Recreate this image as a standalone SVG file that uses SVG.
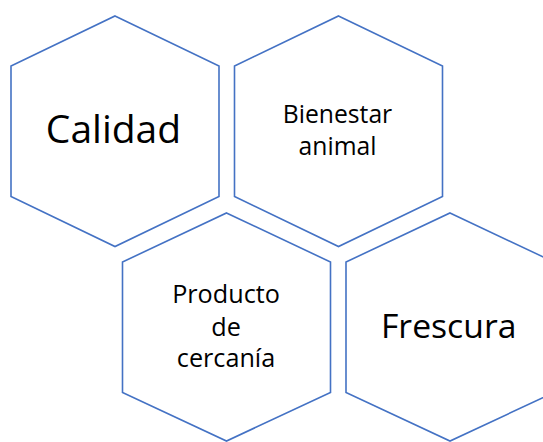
<svg xmlns="http://www.w3.org/2000/svg" width="543" height="442" viewBox="0 0 543 442">
<style>
.hex{fill:#fff;stroke:#4472C4;stroke-width:1.6;stroke-linejoin:miter}
.t{font-family:"Open Sans","Noto Sans","DejaVu Sans",sans-serif;fill:#000;text-anchor:middle}
</style>
<rect width="543" height="442" fill="#fff"/>
<g id="calidad">
<path class="hex" d="M115,16 L219,66 L219,196.5 L115,246.5 L11,196.5 L11,66 Z"/>
<text class="t" x="113.5" y="143.3" font-size="39">Calidad</text>
</g>
<g id="bienestar">
<path class="hex" d="M338.5,16 L442.5,66 L442.5,196.5 L338.5,246.5 L234.5,196.5 L234.5,66 Z"/>
<text class="t" x="337.5" y="123.3" font-size="24.7">Bienestar</text>
<text class="t" x="337.5" y="155" font-size="24.7">animal</text>
</g>
<g id="producto">
<path class="hex" d="M226.5,213 L330.5,262 L330.5,392.5 L226.5,441 L122.5,392.5 L122.5,262 Z"/>
<text class="t" x="226" y="303.3" font-size="25.2">Producto</text>
<text class="t" x="226" y="335.5" font-size="25.2">de</text>
<text class="t" x="226" y="366.7" font-size="25.2">cercanía</text>
</g>
<g id="frescura">
<path class="hex" d="M450,213 L554,262 L554,392.5 L450,441 L346,392.5 L346,262 Z"/>
<text class="t" x="448.7" y="338.3" font-size="33.7">Frescura</text>
</g>
<g id="connectors"></g>
</svg>
